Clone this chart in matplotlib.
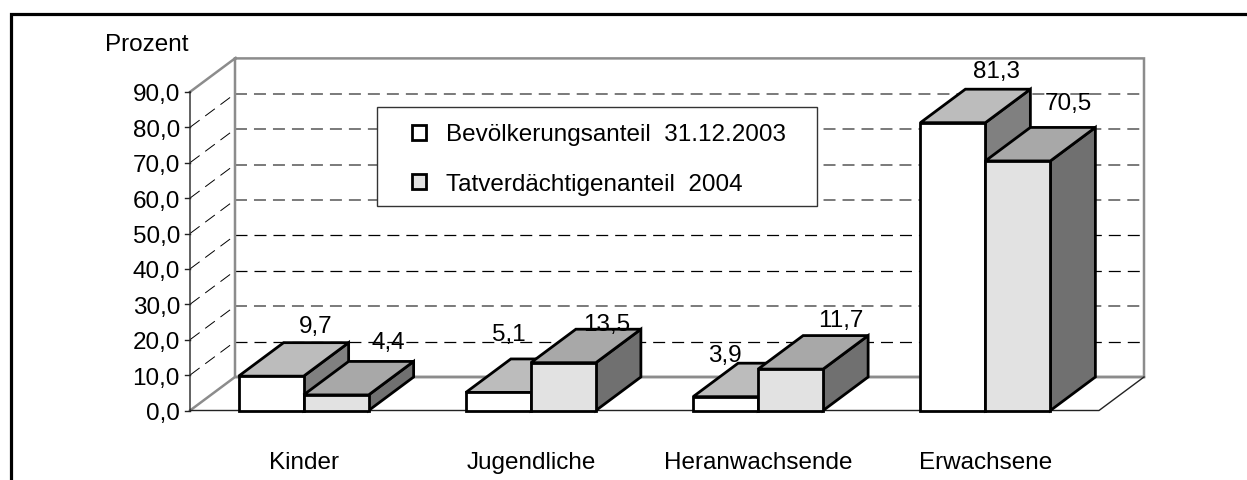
import matplotlib
matplotlib.use('Agg')
import matplotlib.pyplot as plt
from matplotlib.patches import Polygon, Rectangle
from matplotlib.transforms import Affine2D

plt.rcParams['font.family'] = ['Liberation Sans', 'DejaVu Sans']

categories = ['Kinder', 'Jugendliche', 'Heranwachsende', 'Erwachsene']
bevoelkerung = [9.7, 5.1, 3.9, 81.3]
tatverdaechtige = [4.4, 13.5, 11.7, 70.5]
bev_labels = ['9,7', '5,1', '3,9', '81,3']
tat_labels = ['4,4', '13,5', '11,7', '70,5']
yticks = [0, 10, 20, 30, 40, 50, 60, 70, 80, 90]
legend_names = ['Bevölkerungsanteil  31.12.2003', 'Tatverdächtigenanteil  2004']

W, H = 1247, 481
FS = 17.5

# label shifts in pixels (they were moved by hand in the original)
bev_off = [(0, 19), (-35, 27), (-46, 11), (-1, 21)]
tat_off = [(7, 22), (-2, 8), (5, 18), (6, 27)]

# depth of the fake 3d
dx = 45 / 227.25
dy = 33.5 / 3.54
bw = 65 / 227.25

fig = plt.figure(figsize=(W / 100, H / 100), dpi=100, facecolor='white')
ax = fig.add_axes([0, 0, 1, 1])
ax.set_xlim(-190 / 227.25, (W - 190) / 227.25)
ax.set_ylim(-(H - 411.5) / 3.54, 411.5 / 3.54)
ax.axis('off')

# image pixels, y going down
px = Affine2D().scale(1, -1).translate(0, H)


def dashed(xs, ys, color, lw, z=2):
    on = 12 / 1.39 / lw
    off = 7 / 1.39 / lw
    ax.plot(xs, ys, color=color, lw=lw, dashes=(on, off), zorder=z, solid_capstyle='butt')


# outer frame, only left and top
ax.plot([10.5, 10.5, W], [H, 14.5, 14.5], color='black', lw=2.3, transform=px,
        solid_joinstyle='miter', zorder=1)

# grid
for v in yticks[1:-1]:
    if v in (20, 50, 60, 70, 80):
        dashed([dx, 4 + dx], [v + dy, v + dy], '#707070', 1.3)
    else:
        dashed([dx, 4 + dx], [v + dy, v + dy], 'black', 0.9)
    dashed([0, dx], [v, v + dy], 'black', 0.7)

# walls
wall = '#8c8c8c'
ax.plot([0, dx, dx, 4 + dx, 4 + dx, dx], [90, 90 + dy, dy, dy, 90 + dy, 90 + dy], color=wall,
        lw=1.8, zorder=3, solid_joinstyle='miter')
ax.plot([4 + dx, dx, 0], [dy, dy, 0], color=wall, lw=1.8, zorder=3)
ax.plot([0, 0, 4, 4 + dx], [90, 0, 0, dy], color='#222222', lw=1.0, zorder=3)
for v in yticks:
    ax.plot([-5 / 227.25, 0], [v, v], color='#222222', lw=1.0, zorder=3)
    ax.text(-10 / 227.25, v, f'{v},0', ha='right', va='center_baseline', fontsize=FS)


def bar3d(x0, v, front, top, side, z):
    x1 = x0 + bw
    kw = dict(edgecolor='black', lw=2.0, joinstyle='miter', zorder=z)
    ax.add_patch(Polygon([(x1, 0), (x1 + dx, dy), (x1 + dx, v + dy), (x1, v)], facecolor=side, **kw))
    ax.add_patch(Polygon([(x0, v), (x0 + dx, v + dy), (x1 + dx, v + dy), (x1, v)], facecolor=top, **kw))
    ax.add_patch(Rectangle((x0, 0), bw, v, facecolor=front, **kw))


for i in range(len(categories)):
    c = i + 0.5
    bar3d(c - bw, bevoelkerung[i], 'white', '#bcbcbc', '#808080', 5)
    bar3d(c, tatverdaechtige[i], '#e2e2e2', '#a8a8a8', '#707070', 6)
    ax.annotate(bev_labels[i], (c - bw / 2 + dx, bevoelkerung[i] + dy), xytext=(bev_off[i][0], bev_off[i][1]),
                textcoords='offset pixels', ha='center', va='center_baseline', fontsize=FS, zorder=8)
    ax.annotate(tat_labels[i], (c + bw / 2 + dx, tatverdaechtige[i] + dy), xytext=(tat_off[i][0], tat_off[i][1]),
                textcoords='offset pixels', ha='center', va='center_baseline', fontsize=FS, zorder=8)
    ax.text(c, -14.6, categories[i], ha='center', va='center', fontsize=FS)

ax.text(105, 45, 'Prozent', transform=px, ha='left', va='center', fontsize=FS)

# legend box
ax.add_patch(Rectangle((377, 108), 440, 99, transform=px, facecolor='white', edgecolor='#333333',
                       lw=1.0, zorder=4))
for row, (name, col) in enumerate(zip(legend_names, ['white', '#e2e2e2'])):
    ax.add_patch(Rectangle((411.5, 126 + row * 49), 14.5, 14.5, transform=px, facecolor=col,
                           edgecolor='black', lw=2.0, zorder=4))
    ax.text(446, 135 + row * 50, name, transform=px, ha='left', va='center', fontsize=FS, zorder=4)

fig.savefig('out.png', dpi=100)
